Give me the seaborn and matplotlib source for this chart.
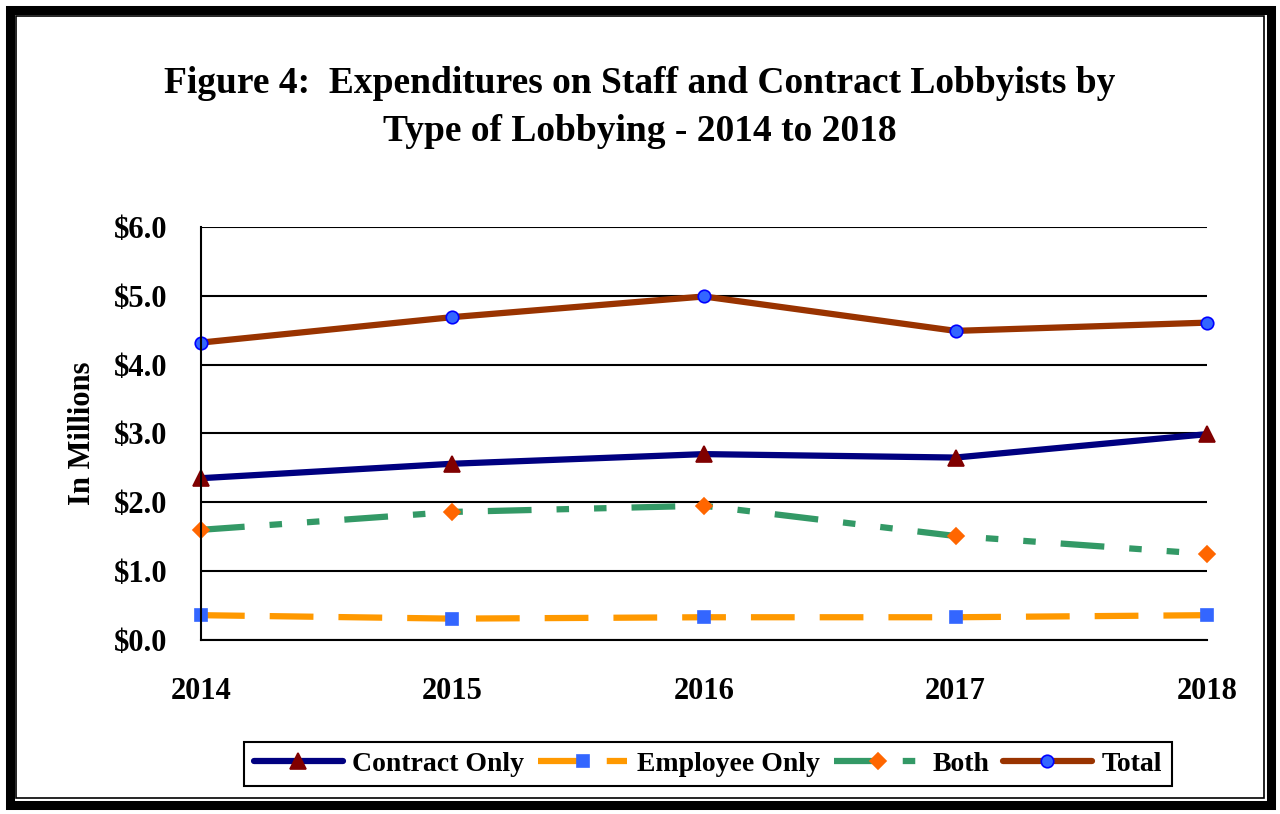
import pandas as pd
import matplotlib.pyplot as plt
from matplotlib.patches import Rectangle
import seaborn as sns

years = [2014, 2015, 2016, 2017, 2018]
contract_only = [2.35, 2.56, 2.70, 2.65, 2.99]
employee_only = [0.36, 0.31, 0.33, 0.33, 0.36]
both = [1.60, 1.86, 1.95, 1.51, 1.25]
total = [4.32, 4.69, 4.99, 4.49, 4.61]

sns.set_style("white")
plt.rcParams['font.family'] = ['Liberation Serif', 'DejaVu Serif']
plt.rcParams['font.weight'] = 'bold'
plt.rcParams['text.color'] = 'black'
plt.rcParams['axes.labelcolor'] = 'black'
plt.rcParams['xtick.color'] = 'black'
plt.rcParams['ytick.color'] = 'black'

fig = plt.figure(figsize=(12.8, 8.14), dpi=100)
ax = fig.add_axes([0.157, 0.2138, 0.786, 0.5074])

series = [
    ("Contract Only", contract_only, "#000080", "-", "^", "#800000", "#800000", 12),
    ("Employee Only", employee_only, "#FF9900", (0, (7, 4)), "s", "#3366FF", "#3366FF", 9),
    ("Both", both, "#339966", (0, (7, 4, 2, 4, 2, 4)), "D", "#FF6600", "#FF6600", 8),
    ("Total", total, "#993300", "-", "o", "#3366FF", "#0000FF", 9),
]

for name, vals, col, ls, mk, mfc, mec, ms in series:
    df = pd.DataFrame({"year": years, "value": vals})
    sns.lineplot(data=df, x="year", y="value", ax=ax, color=col, linestyle=ls,
                 linewidth=4.5, marker=mk, markersize=ms, markerfacecolor=mfc,
                 markeredgecolor=mec, markeredgewidth=1.2, label=name, clip_on=False)

ax.set_xlim(2014, 2018)
ax.set_ylim(0, 6)
ax.set_yticks([0, 1, 2, 3, 4, 5, 6])
ax.set_yticklabels([f"${v:.1f}" for v in range(7)], fontsize=22, fontweight='bold')
ax.set_xticks(years)
ax.set_xticklabels([str(y) for y in years], fontsize=22, fontweight='bold')
ax.tick_params(axis='x', direction='out', length=6, width=1.5, color='black', pad=21)
ax.tick_params(axis='y', length=0, pad=24)
ax.yaxis.grid(True, color='black', linewidth=1.5)
ax.set_axisbelow(True)
for s in ['top', 'right']:
    ax.spines[s].set_visible(False)
for s in ['left', 'bottom']:
    ax.spines[s].set_color('black')
    ax.spines[s].set_linewidth(1.5)
ax.set_xlabel("")
ax.set_ylabel("In Millions", fontsize=22, fontweight='bold', labelpad=12)

fig.text(0.5, 0.868, "Figure 4:  Expenditures on Staff and Contract Lobbyists by\nType of Lobbying - 2014 to 2018",
         ha='center', va='center', fontsize=27, fontweight='bold', linespacing=1.45)

ax.legend(loc='center', bbox_to_anchor=(0.553, 0.0614), bbox_transform=fig.transFigure,
          ncol=4, frameon=True, fancybox=False, edgecolor='black', framealpha=1,
          prop={'size': 20, 'weight': 'bold'}, handlelength=3.2, columnspacing=0.5,
          handletextpad=0.35, borderpad=0.35)
ax.get_legend().get_frame().set_linewidth(1.5)

fig.patches.append(Rectangle((9.5 / 1280, 9.5 / 814), 1 - 19 / 1280, 1 - 19 / 814,
                             transform=fig.transFigure, fill=False, edgecolor='black', linewidth=6.5))
fig.patches.append(Rectangle((16 / 1280, 16 / 814), 1 - 32 / 1280, 1 - 32 / 814,
                             transform=fig.transFigure, fill=False, edgecolor='black', linewidth=1.2))

fig.savefig("out.png", dpi=100)
